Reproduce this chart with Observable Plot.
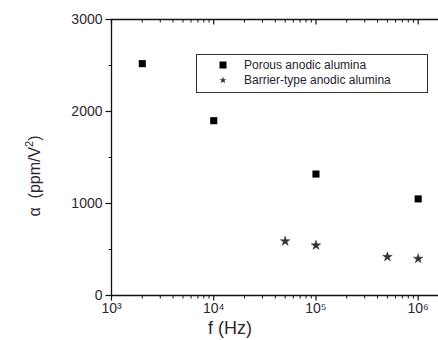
<!DOCTYPE html>
<html>
<head>
<meta charset="utf-8">
<script src="https://cdn.jsdelivr.net/npm/d3@7"></script>
<script src="https://cdn.jsdelivr.net/npm/@observablehq/plot@0.6"></script>
<style>
  html, body { margin: 0; padding: 0; background: #fff; }
  #wrap { position: relative; width: 438px; height: 340px; font-family: "Liberation Sans", Arial, sans-serif; }
  #legend { position: absolute; left: 196px; top: 54px; width: 230px; height: 37px; border: 1px solid #333; box-sizing: content-box; font-size: 12px; color: #2a2233; }
  .row { position: absolute; left: 0; height: 14px; line-height: 14px; white-space: nowrap; }
  .row svg { position: absolute; left: 22px; top: 2px; }
  .row span { position: absolute; left: 47px; top: 0; }
</style>
</head>
<body>
<div id="wrap"></div>
<script>
const porousFreq = [2e3, 1e4, 1e5, 1e6];
const porousAlpha = [2520, 1900, 1320, 1050];
const barrierFreq = [5e4, 1e5, 5e5, 1e6];
const barrierAlpha = [590, 545, 420, 400];
const xMajor = [1e3, 1e4, 1e5, 1e6];
const xMajorLabels = ["10³", "10⁴", "10⁵", "10⁶"];
const yMajor = [0, 1000, 2000, 3000];
const yMinor = [500, 1500, 2500];
const seriesNames = ["Porous anodic alumina", "Barrier-type anodic alumina"];

const xMinor = [];
for (let e = 3; e <= 6; e++) for (let m = 2; m <= 9; m++) { const v = m * 10 ** e; if (v <= 1.58e6) xMinor.push(v); }

const porous = porousFreq.map((f, i) => ({f, a: porousAlpha[i]}));
const barrier = barrierFreq.map((f, i) => ({f, a: barrierAlpha[i]}));
const textColor = "#2e2630";
const ink = "#111";

// custom tick-segment symbols (length in px), drawn from the anchor point
const seg = (dx, dy) => ({draw(ctx) { ctx.moveTo(0, 0); ctx.lineTo(dx, dy); }});
const tickDown5 = seg(0, 5), tickDown3 = seg(0, 3);
const tickLeft6 = seg(-6, 0), tickLeft3 = seg(-3, 0);

const chart = Plot.plot({
  width: 438,
  height: 340,
  marginLeft: 111,
  marginRight: 0,
  marginTop: 19,
  marginBottom: 45,
  style: {fontFamily: "'Liberation Sans', Arial, sans-serif", fontSize: "14px", color: textColor, background: "#fff"},
  x: {type: "log", domain: [1e3, 1.58e6]},
  y: {domain: [0, 3000]},
  marks: [
    // frame lines
    Plot.ruleX([1e3], {stroke: ink, strokeWidth: 1.3}),
    Plot.ruleY([0, 3000], {stroke: ink, strokeWidth: 1.3}),
    // left ticks (outward)
    Plot.dot(yMajor, {x: () => 1e3, y: d => d, symbol: tickLeft6, fill: "none", stroke: ink, strokeWidth: 1.2}),
    Plot.dot(yMinor, {x: () => 1e3, y: d => d, symbol: tickLeft3, fill: "none", stroke: ink, strokeWidth: 1}),
    // bottom ticks (outward)
    Plot.dot(xMajor, {x: d => d, y: () => 0, symbol: tickDown5, fill: "none", stroke: ink, strokeWidth: 1.2}),
    Plot.dot(xMinor, {x: d => d, y: () => 0, symbol: tickDown3, fill: "none", stroke: ink, strokeWidth: 1}),
    // top ticks (inward)
    Plot.dot(xMajor, {x: d => d, y: () => 3000, symbol: tickDown5, fill: "none", stroke: ink, strokeWidth: 1.2}),
    Plot.dot(xMinor, {x: d => d, y: () => 3000, symbol: tickDown3, fill: "none", stroke: ink, strokeWidth: 1}),
    // labels
    Plot.axisY({ticks: yMajor, tickSize: 0, tickPadding: 9, tickFormat: d => String(d), label: null, fontSize: 14}),
    Plot.axisX({ticks: xMajor, tickSize: 0, tickPadding: 8, tickFormat: d => xMajorLabels[xMajor.indexOf(d)], label: null, fontSize: 14}),
    // data
    Plot.dot(porous, {x: "f", y: "a", symbol: "square", r: 4, fill: "#000", stroke: "none"}),
    Plot.dot(barrier, {x: "f", y: "a", symbol: "star", r: 3, fill: "#333", stroke: "#333", strokeWidth: 0.5})
  ]
});

const wrap = document.getElementById("wrap");
wrap.appendChild(chart);

// axis titles
const svg = d3.select(chart);
svg.append("text")
  .attr("x", 230).attr("y", 334)
  .attr("text-anchor", "middle")
  .attr("font-size", 18).attr("fill", textColor)
  .text("f (Hz)");
const yl = svg.append("text")
  .attr("transform", "translate(40,176) rotate(-90)")
  .attr("text-anchor", "middle")
  .attr("font-size", 16).attr("fill", textColor);
yl.append("tspan").text("α  (ppm/V");
yl.append("tspan").attr("font-size", 11).attr("dy", -7).text("2");
yl.append("tspan").attr("dy", 7).text(")");

// legend
const leg = document.createElement("div");
leg.id = "legend";
const sym = [
  '<svg width="8" height="10"><rect x="0.5" y="1.5" width="7" height="7" fill="#000"/></svg>',
  '<svg width="8" height="10">' + '<path transform="translate(4,5.3)" d="' + d3.symbol(d3.symbolStar, 16)() + '" fill="#333"/></svg>'
];
seriesNames.forEach((n, i) => {
  const r = document.createElement("div");
  r.className = "row";
  r.style.top = (3 + i * 15) + "px";
  r.innerHTML = sym[i] + "<span>" + n + "</span>";
  leg.appendChild(r);
});
wrap.appendChild(leg);
</script>
</body>
</html>
